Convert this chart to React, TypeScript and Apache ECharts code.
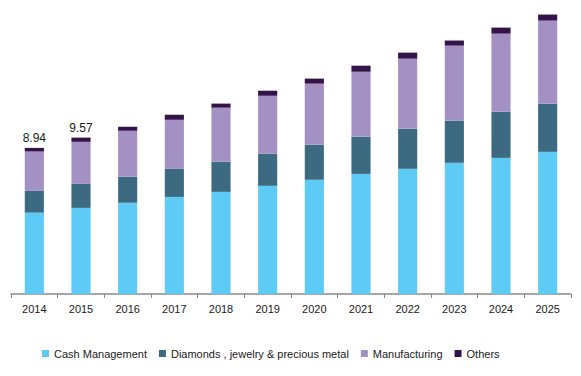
import React, { useEffect, useRef } from "react";
import * as echarts from "echarts";

const years = ["2014", "2015", "2016", "2017", "2018", "2019", "2020", "2021", "2022", "2023", "2024", "2025"];
const cashManagement = [4.98, 5.27, 5.58, 5.94, 6.25, 6.62, 6.99, 7.35, 7.66, 8.03, 8.33, 8.7];
const diamonds = [1.33, 1.47, 1.59, 1.72, 1.84, 1.96, 2.14, 2.27, 2.45, 2.57, 2.82, 2.94];
const manufacturing = [2.41, 2.57, 2.82, 3.0, 3.31, 3.55, 3.74, 3.98, 4.29, 4.6, 4.78, 5.09];
const others = [0.22, 0.26, 0.25, 0.31, 0.25, 0.31, 0.31, 0.37, 0.37, 0.31, 0.37, 0.37];
const totalLabels: (string | null)[] = ["8.94", "9.57", null, null, null, null, null, null, null, null, null, null];

const seriesNames = ["Cash Management", "Diamonds , jewelry & precious metal", "Manufacturing", "Others"];
const colors = ["#5ECAF6", "#3C6A80", "#A391C4", "#35124A"];

export default function App() {
  const ref = useRef<HTMLDivElement>(null);
  useEffect(() => {
    if (!ref.current) return;
    const chart = echarts.init(ref.current, null, { renderer: "svg" });
    const font = "Liberation Sans, Arial, sans-serif";
    const values = [cashManagement, diamonds, manufacturing, others];
    chart.setOption({
      animation: false,
      color: colors,
      textStyle: { fontFamily: font },
      grid: { left: 3, right: 2, top: 0, bottom: 82, containLabel: false },
      legend: {
        bottom: 12,
        left: 29,
        icon: "rect",
        itemWidth: 7,
        itemHeight: 7,
        itemGap: 12,
        textStyle: { fontSize: 11, color: "#1a1a1a", fontFamily: font },
        data: seriesNames,
      },
      xAxis: {
        type: "category",
        data: years,
        axisLine: { lineStyle: { color: "#898989", width: 1.5 } },
        axisTick: { show: true, length: 4, lineStyle: { color: "#898989" } },
        axisLabel: { fontSize: 11, color: "#1a1a1a", margin: 9, fontFamily: font },
      },
      yAxis: { type: "value", min: 0, max: 17.5, show: false, splitLine: { show: false } },
      series: values.map((arr, i) => ({
        name: seriesNames[i],
        type: "bar",
        stack: "total",
        barWidth: "41%",
        data: arr.map((v, j) =>
          i === 3 && totalLabels[j]
            ? {
                value: v,
                label: {
                  show: true,
                  position: "top",
                  distance: 4,
                  formatter: totalLabels[j] as string,
                  fontSize: 12,
                  color: "#1a1a1a",
                  fontFamily: font,
                },
              }
            : v
        ),
      })),
    });
    return () => chart.dispose();
  }, []);
  return <div ref={ref} style={{ width: 565, height: 368 }} />;
}
